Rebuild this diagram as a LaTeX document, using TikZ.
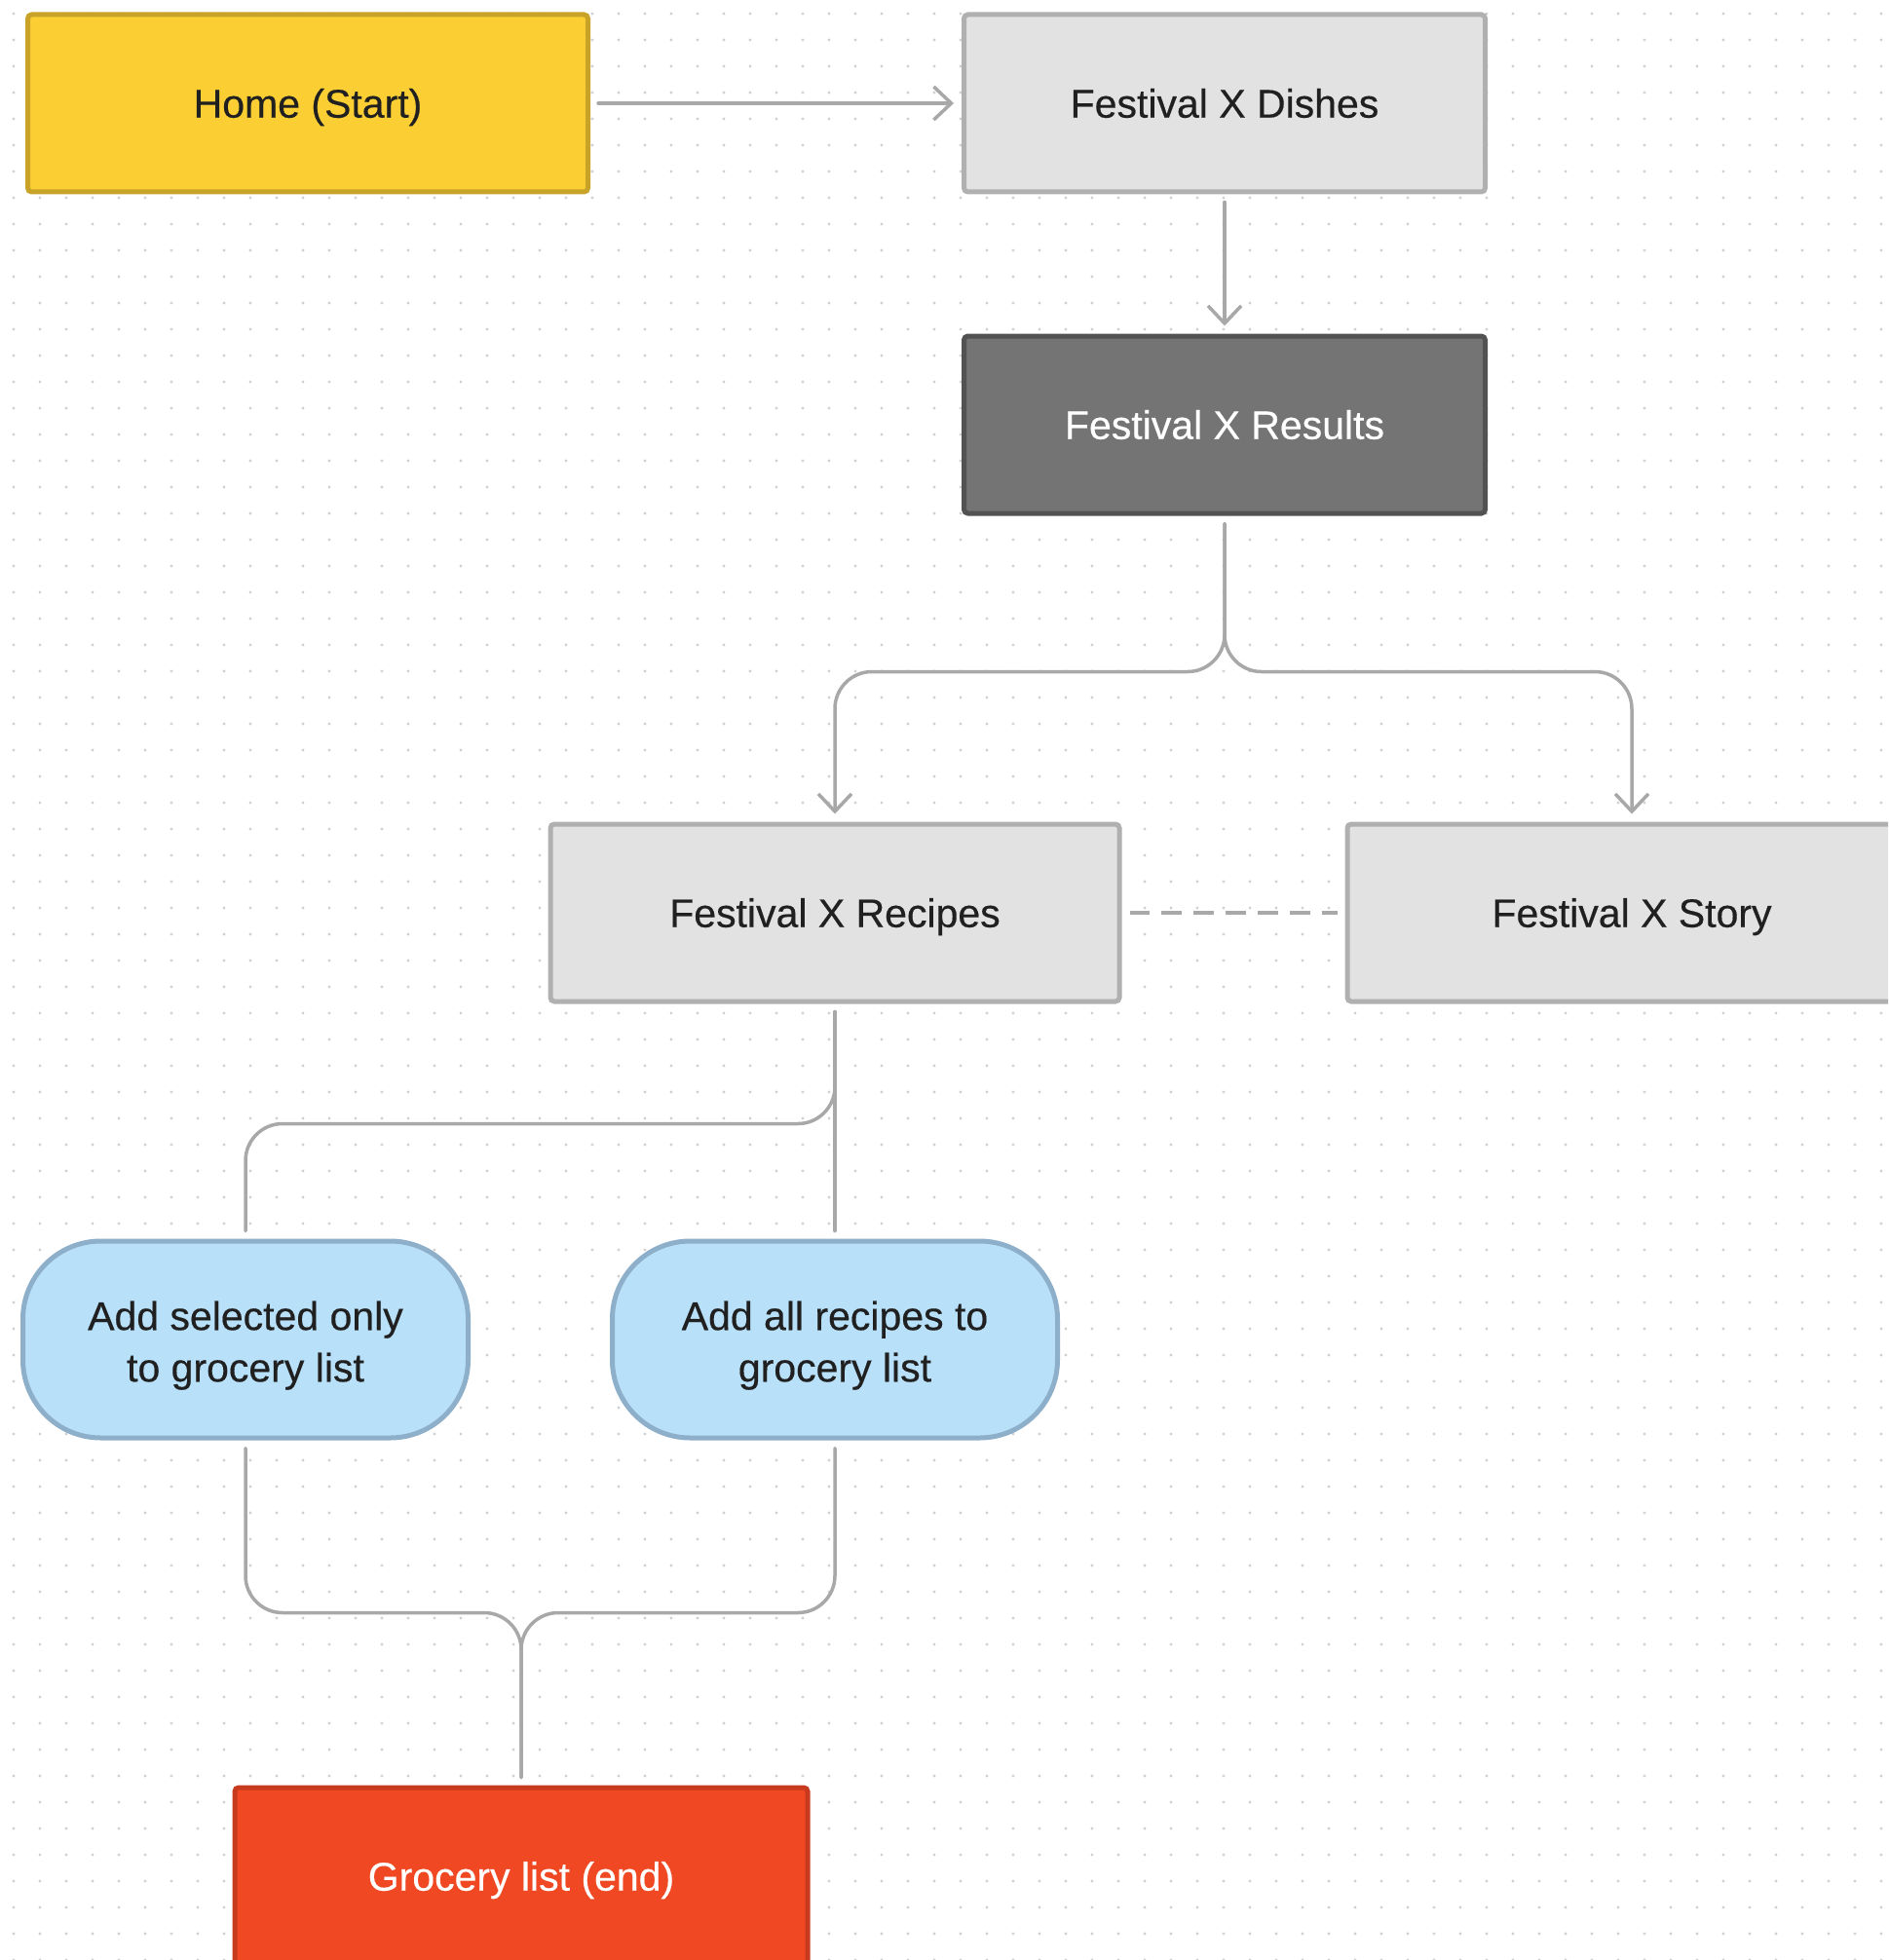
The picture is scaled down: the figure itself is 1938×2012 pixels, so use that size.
\documentclass[tikz,border=0pt]{standalone}
\usepackage{fontspec}
\setmainfont{Liberation Sans}
\newfontfamily\boxfont{Liberation Sans}[FakeBold=0.4]
\usepackage{xcolor}
\usepackage{tikz}
\usetikzlibrary{arrows.meta}

\definecolor{homefill}{RGB}{251,207,51}
\definecolor{homedraw}{RGB}{201,163,40}
\definecolor{pagefill}{RGB}{226,226,226}
\definecolor{pagedraw}{RGB}{176,176,176}
\definecolor{resfill}{RGB}{116,116,116}
\definecolor{resdraw}{RGB}{82,82,82}
\definecolor{actfill}{RGB}{184,225,249}
\definecolor{actdraw}{RGB}{141,175,201}
\definecolor{endfill}{RGB}{240,72,34}
\definecolor{enddraw}{RGB}{199,58,30}
\definecolor{linkcol}{RGB}{168,168,168}
\definecolor{dotcol}{RGB}{208,208,208}
\definecolor{textcol}{RGB}{32,32,32}

\newcommand{\toproom}{\rule{0pt}{21pt}}

\tikzset{
  boxtext/.style={font=\boxfont\fontsize{20.5}{26.5}\selectfont,align=center,text=textcol},
  screenbox/.style={boxtext,text height=17.5pt,text depth=2.8pt,draw=pagedraw,fill=pagefill,line width=2.5pt,rounded corners=2pt,minimum height=91pt},
  homebox/.style={screenbox,draw=homedraw,fill=homefill},
  resultbox/.style={screenbox,draw=resdraw,fill=resfill,text=white},
  endbox/.style={screenbox,draw=enddraw,fill=endfill,text=white},
  actionbox/.style={boxtext,draw=actdraw,fill=actfill,line width=2.5pt,rounded corners=40pt,minimum height=101pt,minimum width=228.5pt},
  link/.style={draw=linkcol,line width=1.75pt,line cap=round,shorten <=4pt,shorten >=4pt},
  linkarrow/.style={link,-{Straight Barb[length=9pt,width=17pt,line width=1.75pt]}},
}

\begin{document}
\begin{tikzpicture}[x=0.5pt,y=0.5pt,yscale=-1,xscale=1]
\useasboundingbox (0,0) rectangle (1938,2012);
\clip (0,0) rectangle (1938,2012);
%Background
\fill [white] (0,0) rectangle (1938,2012);
%Dot grid
\foreach \i in {0,...,72}{
  \foreach \j in {0,...,74}{
    \fill [dotcol] (14+27*\i,14+27*\j) circle (0.8pt);
  }
}

%Screens
\node [homebox,minimum width=287.5pt] (home) at (316,106) {Home (Start)};
\node [screenbox,minimum width=267.5pt] (dishes) at (1257,106) {Festival X Dishes};
\node [resultbox,minimum width=267.5pt] (results) at (1257,436) {Festival X Results};
\node [screenbox,minimum width=292pt] (recipes) at (857,937) {Festival X Recipes};
\node [screenbox,minimum width=292pt] (story) at (1675,937) {Festival X Story};
%Actions
\node [actionbox] (addsel) at (252,1375) {\toproom Add selected only\\to grocery list};
\node [actionbox] (addall) at (857,1375) {\toproom Add all recipes to\\grocery list};
%End
\node [endbox,minimum width=294pt] (grocery) at (535,1926) {Grocery list (end)};

%Connectors
\draw [linkarrow] (home) -- (dishes);
\draw [linkarrow] (dishes) -- (results);
\draw [linkarrow,rounded corners=19pt] (results.south) -- ++(0,160) -| (recipes.north);
\draw [linkarrow,rounded corners=19pt] (results.south) -- ++(0,160) -| (story.north);
\draw [link,dash pattern=on 10.3pt off 6.15pt,line cap=butt] (recipes) -- (story);
\draw [link,rounded corners=19pt] (recipes.south) -- ++(0,123) -| (addsel.north);
\draw [link] (recipes.south) -- (addall.north);
\draw [link,rounded corners=19pt] (addsel.south) -- ++(0,177) -| (grocery.north);
\draw [link,rounded corners=19pt] (addall.south) -- ++(0,177) -| (grocery.north);
\end{tikzpicture}
\end{document}
